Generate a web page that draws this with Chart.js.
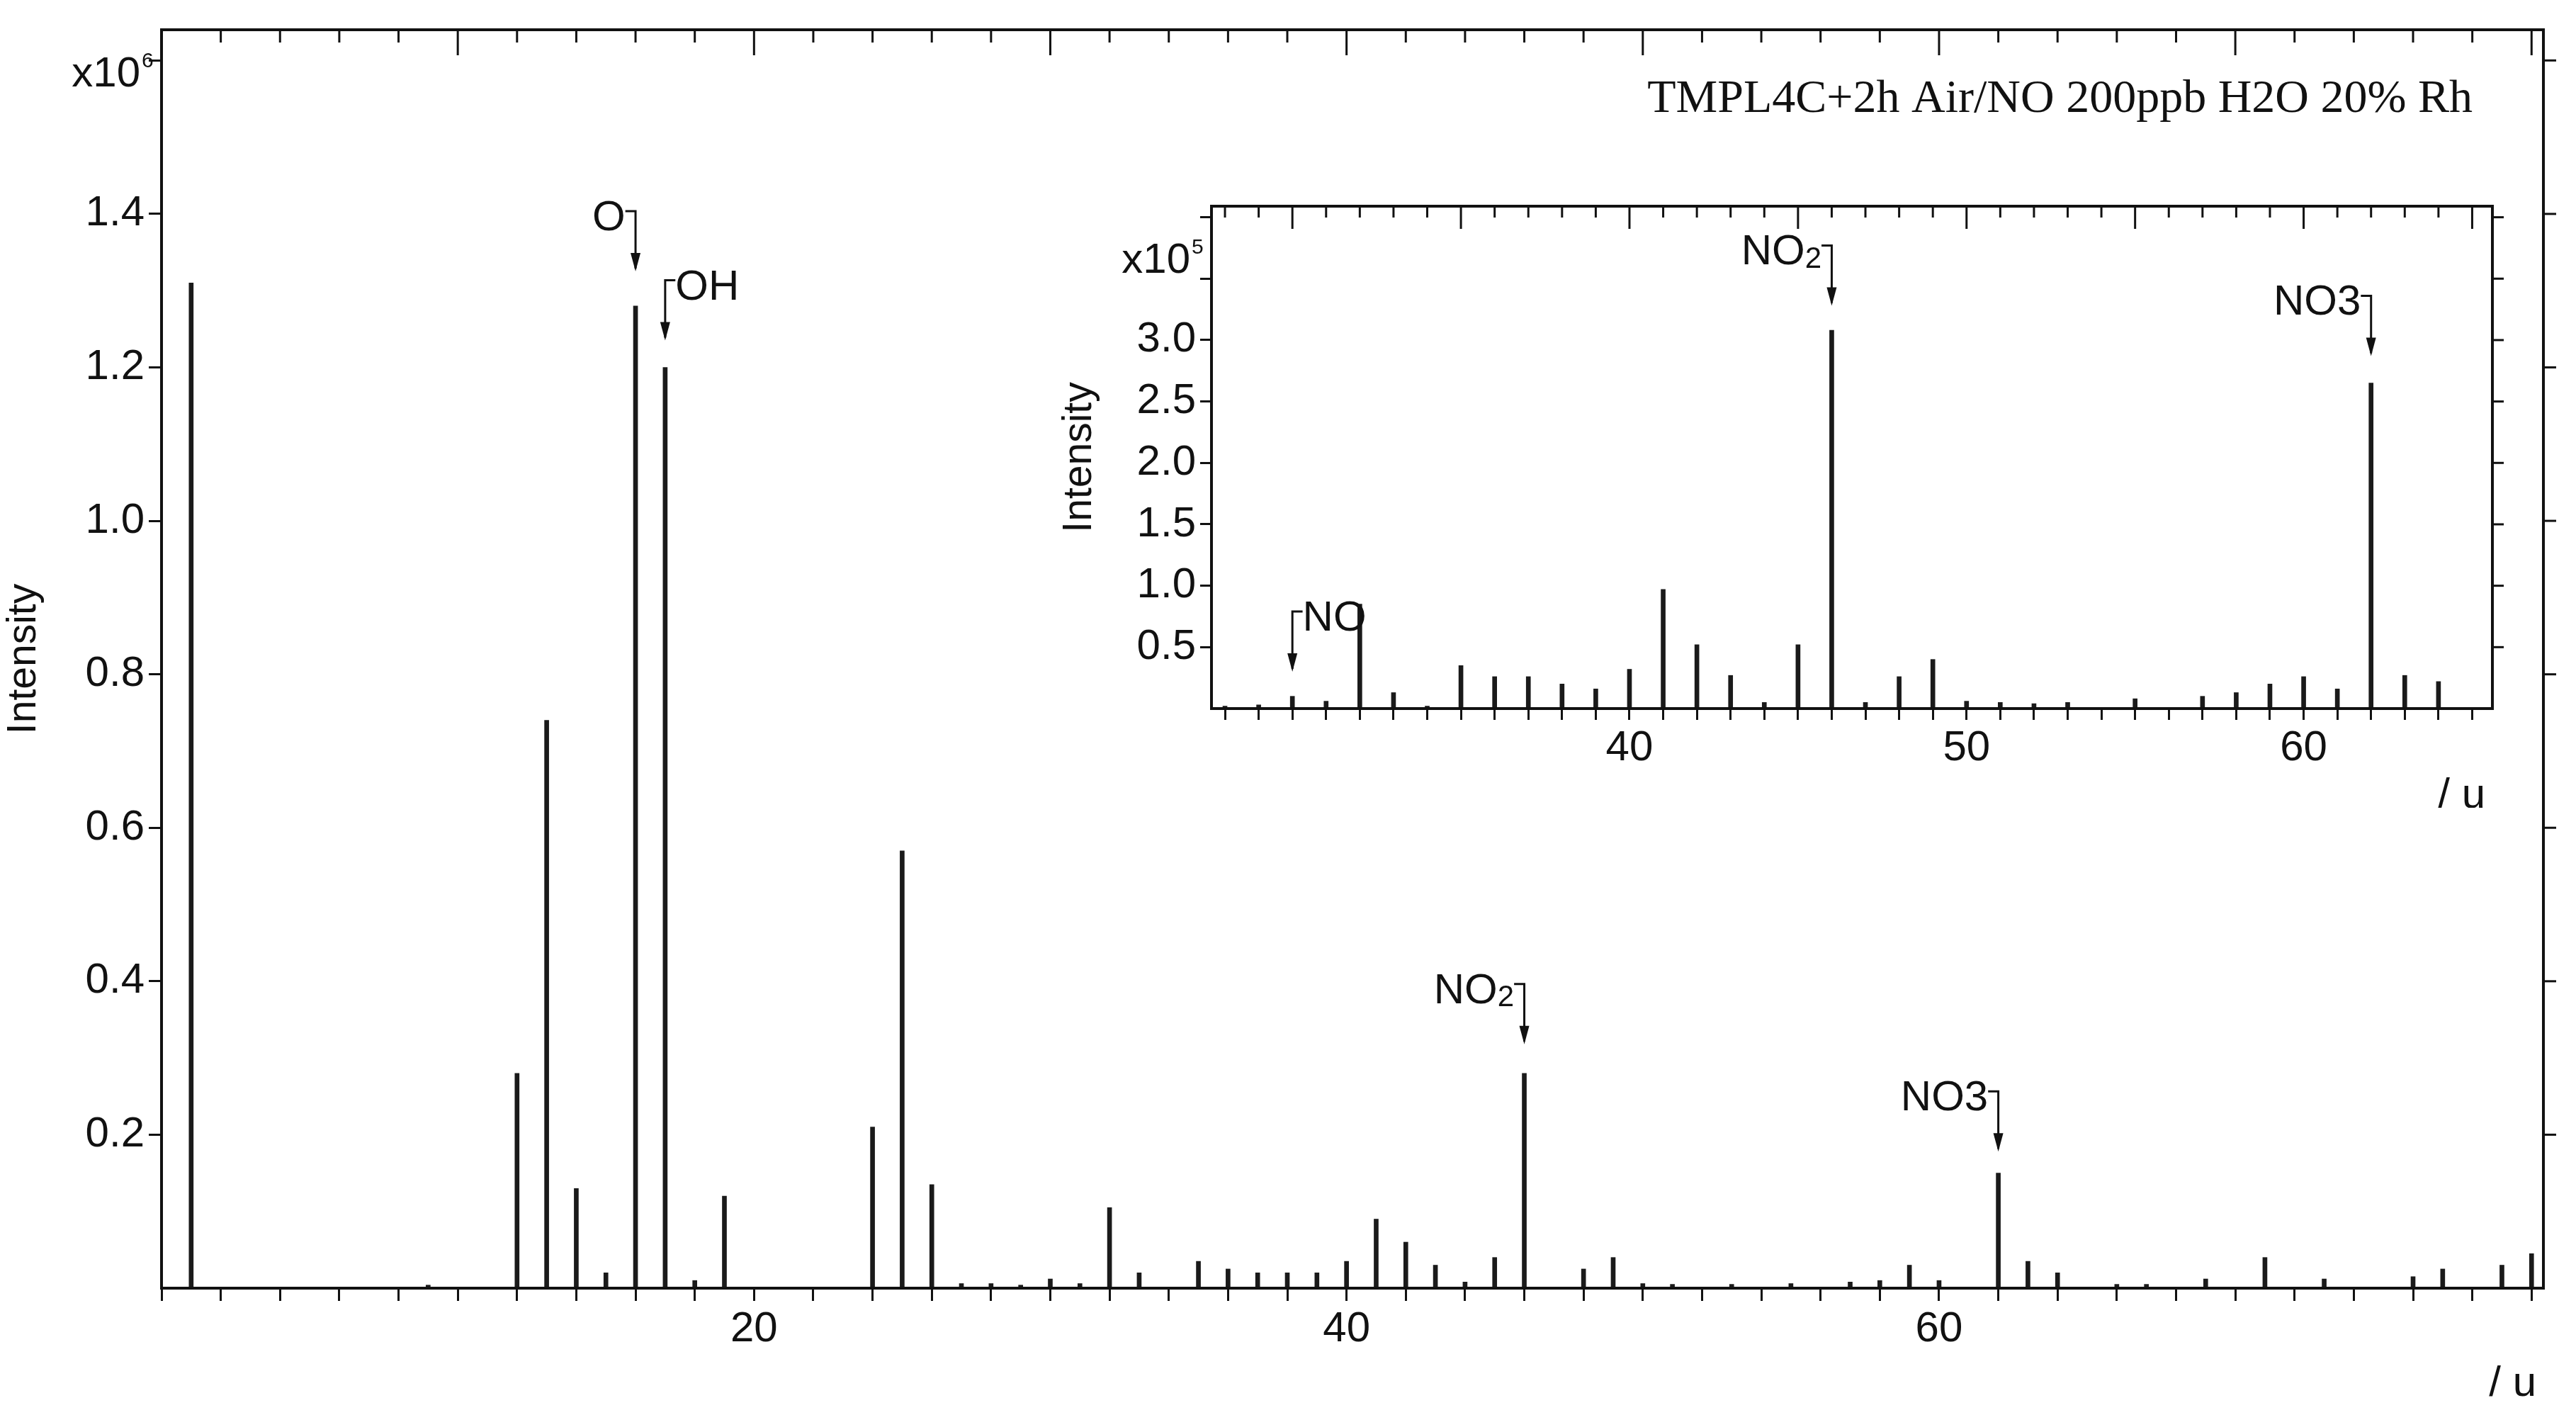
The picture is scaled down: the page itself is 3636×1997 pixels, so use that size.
<!DOCTYPE html>
<html>
<head>
<meta charset="utf-8">
<script src="https://cdn.jsdelivr.net/npm/chart.js@4.4.1/dist/chart.umd.min.js"></script>
<style>
  html, body { margin: 0; padding: 0; background: #fff; }
  #wrap { position: relative; width: 3636px; height: 1997px; }
  #main { position: absolute; left: 0; top: 0; }
  #inset { position: absolute; left: 1490px; top: 240px; background: #fff; }
</style>
</head>
<body>
<div id="wrap">
  <canvas id="main" width="3636" height="1997"></canvas>
  <canvas id="inset" width="2060" height="900"></canvas>
</div>
<script>
// === Data: main spectrum (x10^6) ===
const mainMass = [1, 9, 12, 13, 14, 15, 16, 17, 18, 19, 24, 25, 26, 27, 28, 29, 30, 31, 32, 33, 35, 36, 37, 38, 39, 40, 41, 42, 43, 44, 45, 46, 48, 49, 50, 51, 53, 55, 57, 58, 59, 60, 62, 63, 64, 66, 67, 69, 71, 73, 76, 77, 79, 80];
const mainInt  = [1.31, 0.004, 0.28, 0.74, 0.13, 0.02, 1.28, 1.20, 0.01, 0.12, 0.21, 0.57, 0.135, 0.006, 0.006, 0.004, 0.012, 0.006, 0.105, 0.02, 0.035, 0.025, 0.02, 0.02, 0.02, 0.035, 0.09, 0.06, 0.03, 0.008, 0.04, 0.28, 0.025, 0.04, 0.006, 0.005, 0.005, 0.006, 0.008, 0.01, 0.03, 0.01, 0.15, 0.035, 0.02, 0.005, 0.005, 0.012, 0.04, 0.012, 0.015, 0.025, 0.03, 0.045];
const mainLabels = [
  { x: 16, y: 1.325, text: 'O', side: 'left' },
  { x: 17, y: 1.235, text: 'OH', side: 'right' },
  { x: 46, y: 0.318, text: 'NO', sub: '2', side: 'left' },
  { x: 62, y: 0.178, text: 'NO3', side: 'left' }
];

// === Data: inset spectrum (x10^5) ===
const insetMass = [28, 29, 30, 31, 32, 33, 34, 35, 36, 37, 38, 39, 40, 41, 42, 43, 44, 45, 46, 47, 48, 49, 50, 51, 52, 53, 55, 57, 58, 59, 60, 61, 62, 63, 64];
const insetInt  = [0.02, 0.03, 0.1, 0.06, 0.85, 0.13, 0.02, 0.35, 0.26, 0.26, 0.2, 0.16, 0.32, 0.97, 0.52, 0.27, 0.05, 0.52, 3.08, 0.05, 0.26, 0.4, 0.06, 0.05, 0.04, 0.05, 0.08, 0.1, 0.13, 0.2, 0.26, 0.16, 2.65, 0.27, 0.22];
const insetLabels = [
  { x: 30, y: 0.3, text: 'NO', side: 'right' },
  { x: 46, y: 3.28, text: 'NO', sub: '2', side: 'left' },
  { x: 62, y: 2.87, text: 'NO3', side: 'left' }
];

const FONT = 'Liberation Sans, Arial, sans-serif';

// === Helpers ===
function frameAndLabels(opts) {
  return {
    id: 'frame',
    afterDraw(chart) {
      const c = chart.ctx, a = chart.chartArea;
      const xs = chart.scales.x, ys = chart.scales.y;
      c.save();
      c.strokeStyle = '#111';
      c.lineWidth = 4;
      c.strokeRect(a.left, a.top, a.right - a.left, a.bottom - a.top);
      // top inward ticks, right outward ticks
      c.lineWidth = 3;
      for (let v = Math.ceil(xs.min); v <= xs.max; v++) {
        if (v % opts.xMinor) continue;
        const px = xs.getPixelForValue(v);
        const len = v % opts.xMajor === 0 ? opts.tick * 2 : opts.tick;
        c.beginPath(); c.moveTo(px, a.top); c.lineTo(px, a.top + len); c.stroke();
      }
      for (let v = opts.yStep; v <= ys.max + 1e-9; v += opts.yStep) {
        const py = ys.getPixelForValue(v);
        c.beginPath(); c.moveTo(a.right, py); c.lineTo(a.right + opts.tick, py); c.stroke();
      }
      // multiplier and unit
      c.fillStyle = '#111';
      c.font = opts.fs + 'px ' + FONT;
      c.textAlign = 'right'; c.textBaseline = 'alphabetic';
      const ex = a.left - opts.fs * 0.5;
      c.fillText('x10', ex, opts.multY);
      c.font = (opts.fs * 0.5) + 'px ' + FONT;
      c.textAlign = 'left';
      c.fillText(opts.exp, ex + 2, opts.multY - opts.fs * 0.45);
      c.font = opts.fs + 'px ' + FONT;
      c.textAlign = 'right';
      c.fillText('/ u', a.right - 10, opts.unitY);
      // peak labels with bracket arrows
      opts.labels.forEach(l => {
        const px = xs.getPixelForValue(l.x);
        const py = ys.getPixelForValue(l.y);
        const top = py - opts.arrow;
        c.font = opts.fs + 'px ' + FONT;
        const w = c.measureText(l.text).width;
        let sw = 0;
        if (l.sub) { c.font = (opts.fs * 0.7) + 'px ' + FONT; sw = c.measureText(l.sub).width; }
        const gap = opts.fs * 0.12;
        const tx = l.side === 'left' ? px - gap * 2 - w - sw : px + gap * 2;
        c.textAlign = 'left';
        c.font = opts.fs + 'px ' + FONT;
        c.fillText(l.text, tx, top + opts.fs * 0.45);
        if (l.sub) {
          c.font = (opts.fs * 0.7) + 'px ' + FONT;
          c.fillText(l.sub, tx + w, top + opts.fs * 0.52);
        }
        c.lineWidth = 3;
        c.beginPath();
        c.moveTo(l.side === 'left' ? px - gap * 2 : px + gap * 2, top);
        c.lineTo(px, top);
        c.lineTo(px, py - 4);
        c.stroke();
        c.beginPath();
        c.moveTo(px - 7, py - 26); c.lineTo(px + 7, py - 26); c.lineTo(px, py); c.closePath();
        c.fill();
      });
      c.restore();
    }
  };
}

function makeChart(id, mass, inten, cfg) {
  return new Chart(document.getElementById(id), {
    type: 'bar',
    data: {
      datasets: [{
        data: mass.map((m, i) => ({ x: m, y: inten[i] })),
        backgroundColor: '#1a1a1a',
        barThickness: cfg.bar
      }]
    },
    options: {
      responsive: false,
      animation: false,
      layout: { padding: cfg.pad },
      plugins: { legend: { display: false }, tooltip: { enabled: false } },
      scales: {
        x: {
          type: 'linear', min: cfg.xMin, max: cfg.xMax, offset: false,
          afterFit: s => { s.height = cfg.xH; },
          afterBuildTicks: s => {
            const t = [];
            for (let v = Math.ceil(cfg.xMin); v <= cfg.xMax; v++) if (v % cfg.xMinor === 0) t.push({ value: v });
            s.ticks = t;
          },
          grid: { drawOnChartArea: false, offset: false, tickLength: cfg.tick, color: '#111', lineWidth: 3 },
          border: { display: false },
          ticks: {
            autoSkip: false, maxRotation: 0, color: '#111', padding: 4,
            font: { size: cfg.fs, family: FONT },
            callback: v => cfg.xLabels.includes(v) ? String(v) : ''
          }
        },
        y: {
          min: 0, max: cfg.yMax,
          afterFit: s => { s.width = cfg.yW; },
          afterBuildTicks: s => {
            const t = [];
            for (let v = cfg.yStep; v <= cfg.yMax + 1e-9; v += cfg.yStep) t.push({ value: +v.toFixed(2) });
            s.ticks = t;
          },
          title: { display: true, text: 'Intensity', color: '#111', font: { size: cfg.fs * 0.95, family: FONT }, padding: 0 },
          grid: { drawOnChartArea: false, tickLength: cfg.tick, color: '#111', lineWidth: 3 },
          border: { display: false },
          ticks: {
            color: '#111', padding: 6, font: { size: cfg.fs, family: FONT },
            callback: v => cfg.yLabels.includes(+v.toFixed(2)) ? v.toFixed(1) : ''
          }
        }
      }
    },
    plugins: [frameAndLabels({
      xMinor: cfg.xMinor, xMajor: cfg.xMajor, yStep: cfg.yStep, tick: cfg.tick,
      fs: cfg.fs, exp: cfg.exp, multY: cfg.multY, unitY: cfg.unitY,
      labels: cfg.labels, arrow: cfg.arrow
    })]
  });
}

// === Main chart ===
makeChart('main', mainMass, mainInt, {
  bar: 6, pad: { top: 23, right: 46, left: 0, bottom: 0 },
  xMin: 0, xMax: 80.4, xMinor: 2, xMajor: 10, xLabels: [20, 40, 60], xH: 1997 - 1818,
  yMax: 1.64, yStep: 0.2, yLabels: [0.2, 0.4, 0.6, 0.8, 1.0, 1.2, 1.4], yW: 228,
  tick: 18, fs: 60, exp: '6', multY: 122, unitY: 1970,
  labels: mainLabels, arrow: 85
});

// === Inset chart ===
makeChart('inset', insetMass, insetInt, {
  bar: 6, pad: { top: 51, right: 2060 - (3518 - 1490), left: 0, bottom: 0 },
  xMin: 27.6, xMax: 65.6, xMinor: 1, xMajor: 5, xLabels: [40, 50, 60], xH: 900 - (1000 - 240),
  yMax: 4.09, yStep: 0.5, yLabels: [0.5, 1.0, 1.5, 2.0, 2.5, 3.0], yW: 1710 - 1490,
  tick: 16, fs: 60, exp: '5', multY: 145, unitY: 900,
  labels: insetLabels, arrow: 85
});

// === Title ===
const mctx = document.getElementById('main').getContext('2d');
mctx.font = '66px "Liberation Serif", "Times New Roman", serif';
mctx.fillStyle = '#111';
mctx.textAlign = 'right';
mctx.fillText('TMPL4C+2h Air/NO 200ppb H2O 20% Rh', 3490, 158);
</script>
</body>
</html>
